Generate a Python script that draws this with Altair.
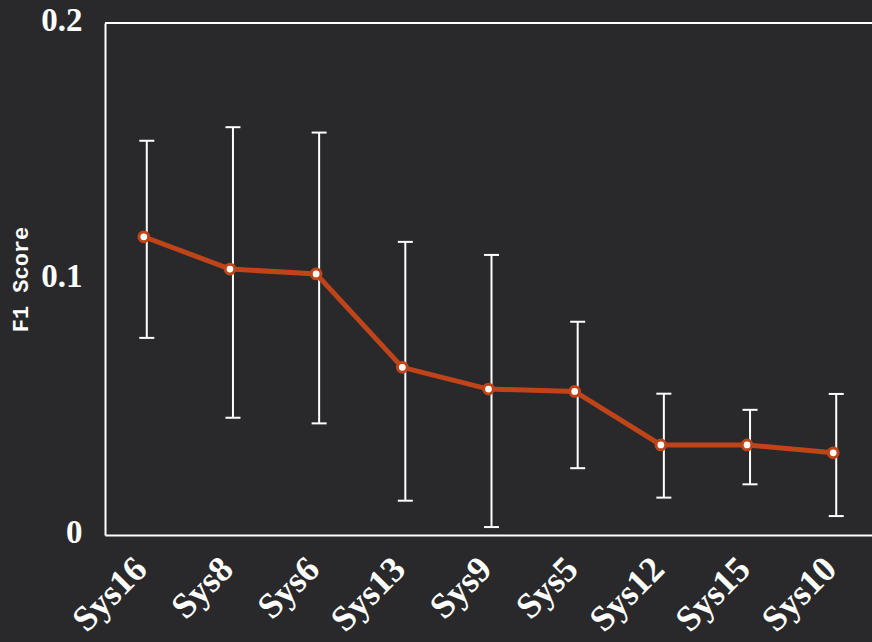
import altair as alt
import pandas as pd

systems = ["Sys16", "Sys8", "Sys6", "Sys13", "Sys9", "Sys5", "Sys12", "Sys15", "Sys10"]
f1 = [0.1165, 0.1039, 0.1020, 0.0655, 0.0570, 0.0561, 0.0352, 0.0352, 0.0321]
low = [0.0770, 0.0458, 0.0436, 0.0134, 0.0031, 0.0261, 0.0146, 0.0198, 0.0074]
high = [0.1540, 0.1593, 0.1572, 0.1145, 0.1094, 0.0833, 0.0552, 0.0489, 0.0551]
y_ticks = [0, 0.1, 0.2]

df = pd.DataFrame({"system": systems, "f1": f1, "low": low, "high": high})

ORANGE = "#bf4419"
BG = "#29292b"

xenc = alt.X(
    "system:N",
    sort=systems,
    scale=alt.Scale(type="point", padding=0.45),
    axis=alt.Axis(
        title=None,
        labelAngle=-45,
        labelAlign="right",
        labelBaseline="middle",
        labelPadding=28,
        labelOffset=-3,
        labelFont="Liberation Serif",
        labelFontWeight="bold",
        labelFontSize=36,
        labelColor="white",
        ticks=False,
        tickSize=0,
        domainColor="white",
        domainWidth=2,
        grid=False,
    ),
)

yscale = alt.Scale(domain=[0, 0.2], nice=False, zero=True)
yaxis = alt.Axis(
    values=y_ticks,
    format="~g",
    title="F1 Score",
    titleFont="Liberation Mono",
    titleFontWeight="bold",
    titleFontSize=22,
    titleColor="white",
    titleX=-85,
    titleY=256,
    titleAngle=-90,
    titleAlign="center",
    titleBaseline="middle",
    labelFont="Liberation Serif",
    labelFontWeight="bold",
    labelFontSize=33,
    labelColor="white",
    labelPadding=23,
    labelOffset=-3,
    labelBaseline="middle",
    ticks=False,
    tickSize=0,
    domainColor="white",
    domainWidth=2,
    grid=False,
)


def yenc(field):
    return alt.Y(field, type="quantitative", scale=yscale, axis=yaxis, title="F1 Score")


base = alt.Chart(df)

top_line = alt.Chart(df).mark_rule(color="white", strokeWidth=2).encode(
    y=alt.datum(0.2)
)

bars = base.mark_rule(color="white", strokeWidth=2, xOffset=3).encode(
    x=xenc, y=yenc("low"), y2="high:Q"
)
cap_low = base.mark_tick(color="white", thickness=2, size=15, xOffset=3, opacity=1).encode(
    x=xenc, y=yenc("low")
)
cap_high = base.mark_tick(color="white", thickness=2, size=15, xOffset=3, opacity=1).encode(
    x=xenc, y=yenc("high")
)
line = base.mark_line(color=ORANGE, strokeWidth=5).encode(x=xenc, y=yenc("f1"))
points = base.mark_circle(
    fill="white", stroke=ORANGE, strokeWidth=3, size=95, opacity=1
).encode(x=xenc, y=yenc("f1"))

chart = (
    alt.layer(bars, cap_low, cap_high, line, points, top_line)
    .properties(
        width=767,
        height=512,
        background=BG,
        padding={"left": 105, "top": 23, "right": 0, "bottom": 107},
        autosize=alt.AutoSizeParams(type="none"),
    )
    .configure_view(stroke=None)
)

chart.save("out.html", embed_options={"renderer": "svg", "actions": False})
